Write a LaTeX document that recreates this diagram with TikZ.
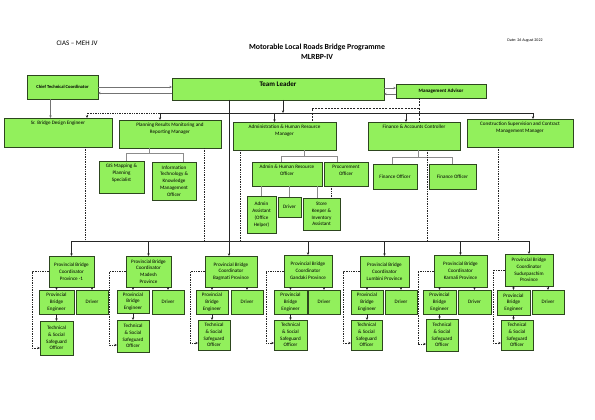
\documentclass[tikz,border=0pt]{standalone}
\usepackage{fontspec}
\setmainfont{Carlito}
\usetikzlibrary{arrows.meta,shadows,calc}
\definecolor{boxgreen}{RGB}{146,240,92}
\definecolor{boxline}{RGB}{45,70,30}
\newcommand\bfnt{\fontsize{5.1}{6.8}\selectfont}
% centred text box: [opts]{name}{x1}{y1}{x2}{y2}{text}
\newcommand\bx[7][]{\node[box,minimum width={(#5)-(#3)},minimum height={(#6)-(#4)},#1] (#2) at ({((#3)+(#5))/2},{((#4)+(#6))/2}) {#7};}
% top-aligned text box
\newcommand\bxt[7][]{\node[box,minimum width={(#5)-(#3)},minimum height={(#6)-(#4)},label={[lbl,anchor=north,yshift=-2.5pt]north:{#7}},#1] (#2) at ({((#3)+(#5))/2},{((#4)+(#6))/2}) {};}
\tikzset{
  box/.style={draw=boxline,line width=0.6pt,fill=boxgreen,font=\bfnt,align=center,inner sep=0.8pt,outer sep=0pt,
    drop shadow={shadow xshift=0.7pt,shadow yshift=-0.7pt,fill=black,opacity=0.35}},
  lbl/.style={font=\bfnt,align=center,inner sep=0.5pt},
  ln/.style={line width=0.8pt,draw=black!85},
  arr/.style={ln,-{Stealth[length=2.6pt,width=2.3pt]}},
  gl/.style={line width=0.5pt,draw=black!45},
  garr/.style={line width=0.5pt,draw=black!55,-{Stealth[length=2.6pt,width=2.3pt]}},
  dln/.style={line width=0.7pt,draw=black!85,densely dotted},
  darr/.style={dln,-{Stealth[length=2.6pt,width=2.3pt]}},
  dsh/.style={line width=0.7pt,draw=black!85,dash pattern=on 2pt off 1.2pt}
}
\begin{document}
\begin{tikzpicture}[x=1pt,y=-1pt]
\fill[white] (0,0) rectangle (595,420);
\useasboundingbox (0,0) rectangle (595,420);

% header texts
\node[font=\fontsize{7}{8}\selectfont] (cias) at (77,43) {CIAS – MEH JV};
\node[font=\bfseries\fontsize{7.8}{10}\selectfont,align=center] (title) at (317,52) {Motorable Local Roads Bridge Programme\\MLRBP-IV};
\node[font=\fontsize{4}{5}\selectfont] (date) at (525,40) {Date: 26 August 2022};

% top level
\bx[font=\bfseries\fontsize{4.6}{5}\selectfont]{ctc}{27}{75}{98}{99}{Chief Technical Coordinator}
\node[box,minimum width=212,minimum height=22,label={[lbl,font=\bfseries\fontsize{7}{8}\selectfont,anchor=north,yshift=-2.5pt]north:{Team Leader}}] (tl) at (278,89) {};
\bx[font=\bfseries\fontsize{5}{6}\selectfont]{ma}{396}{84}{486}{98}{Management Advisor}

% level 2
\bxt{sbde}{4}{118}{112}{147}{Sr. Bridge Design Engineer}
\bxt{prm}{119}{120}{221}{148}{Planning Results Monitoring and\\Reporting Manager}
\bxt{ahrm}{233}{122}{336}{150}{Administration \& Human Resource\\Manager}
\bxt{fac}{368}{122}{460}{150}{Finance \& Accounts Controller}
\bxt{cscm}{467}{119}{573}{147}{Construction Supervision and Contract\\Management Manager}

% level 3
\bxt{gis}{99}{161}{144}{193}{GIS Mapping \&\\Planning\\Specialist}
\bx{it}{152}{162}{196}{200}{Information\\Technology \&\\Knowledge\\Management\\Officer}
\bxt{ahro}{252}{162}{322}{186}{Admin \& Human Resource\\Officer}
\bxt{po}{324}{162}{368}{186}{Procurement\\Officer}
\bx{aa}{247}{196}{276}{233}{Admin\\Assistant\\(Office\\Helper)}
\bx{drv0}{278}{197}{301}{217}{Driver}
\bx{sk}{303}{198}{340}{230}{Store\\Keeper \&\\Inventory\\Assistant}
\bx{fo1}{373}{164}{417}{189}{Finance Officer}
\bx{fo2}{429}{164}{476}{189}{Finance Officer}

% provincial groups
\bx{pbc1}{49}{256}{94}{287}{Provincial Bridge\\Coordinator\\Province -1}
\bx{pbe1}{39}{290}{74}{314}{Provincial\\Bridge\\Engineer}
\bx{drv1}{76}{290}{108}{314}{Driver}
\bx{ts1}{40}{321}{73}{355}{Technical\\\& Social\\Safeguard\\Officer}

\bx{pbc2}{126}{256}{171}{287}{Provincial Bridge\\Coordinator\\Madesh\\Province}
\bx{pbe2}{117}{290}{149}{313}{Provincial\\Bridge\\Engineer}
\bx{drv2}{152}{290}{184}{314}{Driver}
\bx{ts2}{117}{320}{149}{352}{Technical\\\& Social\\Safeguard\\Officer}

\bx{pbc3}{205}{256}{257}{287}{Provincial Bridge\\Coordinator\\Bagmati Province}
\bx{pbe3}{196}{290}{228}{314}{Provincial\\Bridge\\Engineer}
\bx{drv3}{231}{290}{263}{314}{Driver}
\bx{ts3}{198}{320}{230}{350}{Technical\\\& Social\\Safeguard\\Officer}

\bx{pbc4}{284}{255}{332}{287}{Provincial Bridge\\Coordinator\\Gandaki Province}
\bx{pbe4}{274}{290}{307}{314}{Provincial\\Bridge\\Engineer}
\bx{drv4}{308}{290}{340}{314}{Driver}
\bx{ts4}{274}{320}{307}{350}{Technical\\\& Social\\Safeguard\\Officer}

\bx{pbc5}{360}{256}{409}{287}{Provincial Bridge\\Coordinator\\Lumbini Province}
\bx{pbe5}{351}{290}{383}{314}{Provincial\\Bridge\\Engineer}
\bx{drv5}{385}{290}{417}{314}{Driver}
\bx{ts5}{351}{320}{382}{350}{Technical\\\& Social\\Safeguard\\Officer}

\bx{pbc6}{434}{255}{487}{287}{Provincial Bridge\\Coordinator\\Karnali Province}
\bx{pbe6}{423}{290}{456}{314}{Provincial\\Bridge\\Engineer}
\bx{drv6}{458}{290}{491}{314}{Driver}
\bx{ts6}{426}{319}{458}{351}{Technical\\\& Social\\Safeguard\\Officer}

\bx{pbc7}{505}{254}{553}{286}{Provincial Bridge\\Coordinator\\Sudurpaschim\\Province}
\bx{pbe7}{497}{290}{530}{315}{Provincial\\Bridge\\Engineer}
\bx{drv7}{532}{290}{564}{314}{Driver}
\bx{ts7}{501}{320}{533}{350}{Technical\\\& Social\\Safeguard\\Officer}

% CTC <-> TL, TL <-> MA
\draw[garr] (ctc.east) -- (ctc.east -| tl.west);
\draw[garr] ($(ctc.east -| tl.west)+(0,6)$) -- ($(ctc.east)+(0,6)$);
\draw[garr] ($(ma.west -| tl.east)+(0,-3)$) -- ($(ma.west)+(0,-3)$);
\draw[garr] ($(ma.west)+(0,3)$) -- ($(ma.west -| tl.east)+(0,3)$);
\coordinate (c1) at ($(ctc.south)+(-12,0)$);
\draw[garr] (c1) -- (c1 |- sbde.north);

% main distribution line
\coordinate (tlA) at ($(tl.south west)+(57,0)$);
\coordinate (tlB) at ($(tl.south west)+(111,0)$);
\coordinate (mL) at (87,113);
\coordinate (mS) at (160,113);
\coordinate (mR) at (533,113);
\draw[arr] (tlB) -- (tlB |- mS);
\draw[ln] (mS) -- (mR);
\draw[dln] (mS) -- (mL);
\draw[darr] (mL) -- (mL |- sbde.north);
\draw[arr] (mS) -- (mS |- prm.north);
\coordinate (a1) at ($(ahrm.north)+(-10,0)$);
\draw[arr] (a1 |- mS) -- (a1);
\coordinate (f1) at ($(fac.north)+(-8,0)$);
\draw[arr] (f1 |- mS) -- (f1);
\draw[arr] (mR) -- (mR |- cscm.north);

% Management Advisor dashed links
\coordinate (md) at ($(ma.south)+(-22,0)$);
\coordinate (mdb) at ($(md)+(0,10)$);
\coordinate (mdl) at ($(ahrm.north)+(27.5,0)$);
\draw[dsh] (md) -- (mdb) -- (mdb -| mdl) -- (mdl);
\draw[dsh] (mdb) -- (mdb |- fac.north);

% sub-units
\coordinate (p0) at ($(prm.south)+(-21,0)$);
\coordinate (p1) at ($(p0)+(0,5)$);
\coordinate (g0) at ($(gis.north)+(4.5,0)$);
\coordinate (i0) at ($(it.north)+(9,0)$);
\draw[gl] (p0) -- (p1);
\draw[gl] (g0) |- (p1 -| i0) -- (i0);

\coordinate (h0) at ($(ahrm.south)+(19.5,0)$);
\coordinate (h1) at ($(h0)+(0,6)$);
\coordinate (o0) at ($(ahro.north)+(-6,0)$);
\coordinate (q0) at ($(po.north)+(-9,0)$);
\draw[gl] (h0) -- (h1);
\draw[gl] (o0) |- (h1 -| q0) -- (q0);
\draw[gl] (aa.north |- ahro.south) -- (aa.north);
\draw[gl] (drv0.north |- ahro.south) -- (drv0.north);
\coordinate (s0) at ($(sk.north)+(-4.5,0)$);
\draw[gl] (s0 |- ahro.south) -- (s0);
\coordinate (s1) at ($(sk.north)+(10,0)$);
\draw[dln] (s1 |- po.south) -- (s1);

\coordinate (k0) at ($(fac.south)+(4,0)$);
\coordinate (k1) at ($(k0)+(0,7)$);
\coordinate (fo1t) at ($(fo1.north)+(-3,0)$);
\draw[gl] (k0) -- (k1);
\draw[gl] (fo1t) |- (k1 -| fo2.north) -- (fo2.north);

% dotted links down to the provincial bus
\coordinate (bL) at (71,241);
\foreach \n/\s in {sbde/27,prm/34,ahrm/-44.5,fac/13,cscm/-22}{
  \coordinate (t) at ($(\n.south)+(\s,0)$);
  \draw[dln] (t) -- (t |- bL);
}
% TL straight line down
\draw[arr] (tlA) -- (tlA |- pbc3.north);
% provincial bus
\draw[ln] (pbc1.north |- bL) -- (pbc7.north |- bL);
\foreach \i in {1,2,4,5,6,7}{\draw[arr] (pbc\i.north |- bL) -- (pbc\i.north);}

% provincial groups connectors
\foreach \i in {1,...,7}{
  \draw[arr] (pbc\i.south -| pbe\i.north) -- (pbe\i.north);
  \draw[arr] (pbc\i.south -| drv\i.north) -- (drv\i.north);
  \draw[arr] (pbe\i.south) -- (pbe\i.south |- ts\i.north);
  \draw[darr] (pbc\i.west) -| ($(ts\i.south west)+(-8,-7)$) -- ($(ts\i.south west)+(0,-7)$);
}
\end{tikzpicture}
\end{document}
